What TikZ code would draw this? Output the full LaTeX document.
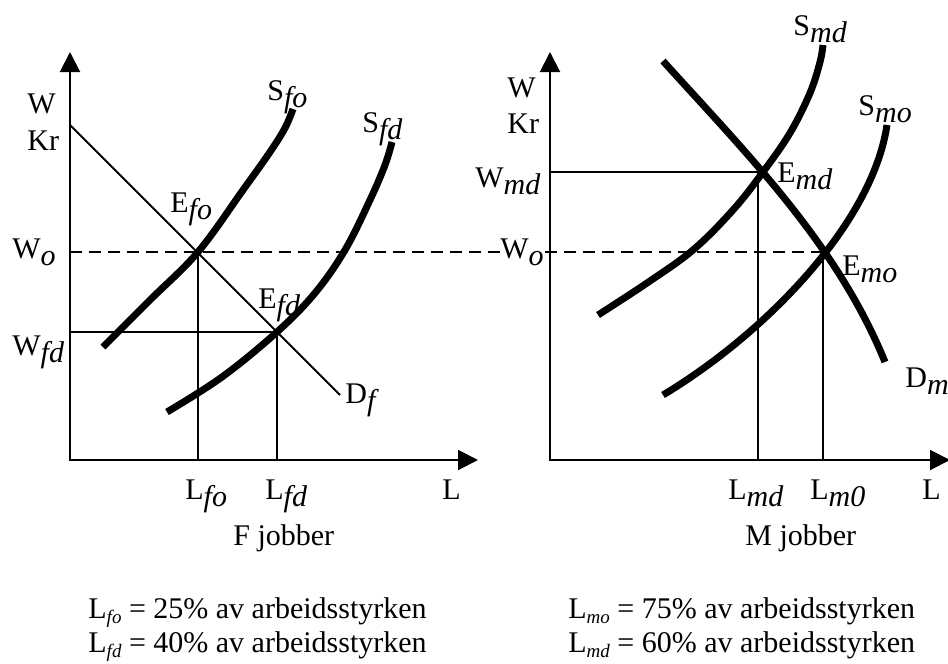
\documentclass[tikz,border=0pt]{standalone}
\usepackage{fontspec}
\setmainfont{Liberation Serif}
\usetikzlibrary{arrows.meta}
\newcommand\lsub[1]{\raisebox{-3.5pt}{\itshape #1}}
\newcommand\ssub[1]{\raisebox{-2.5pt}{\fontsize{9.5}{10}\selectfont\itshape #1}}
\begin{document}
\begin{tikzpicture}[x=0.5pt,y=-0.5pt,font=\fontsize{15}{18}\selectfont,
  lab/.style={anchor=base west,inner sep=0pt},
  axes/.style={line width=1pt,{Triangle[length=10pt,width=10pt]}-{Triangle[length=10pt,width=10pt]}},
  guide/.style={line width=1pt},
  dashline/.style={line width=1pt,dash pattern=on 6pt off 3.5pt},
  heavy/.style={line width=3.5pt}]
\useasboundingbox (0,0) rectangle (948,664);
% ---------- left panel ----------
\coordinate (Y1) at (70,52);
\coordinate (O1) at (70,460);
\coordinate (X1) at (478,460);
\coordinate (Efo) at (198,252);
\coordinate (Efd) at (277,332);
\coordinate (Dft) at (70,125);
\coordinate (Dfb) at (340,395);
\coordinate (Wo1) at (70,252);
\coordinate (Wfd) at (70,332);
\coordinate (Lfo) at (198,460);
\coordinate (Lfd) at (277,460);
% ---------- right panel ----------
\coordinate (Y2) at (550,52);
\coordinate (O2) at (550,460);
\coordinate (X2) at (950,460);
\coordinate (Emd) at (763,172);
\coordinate (Emo) at (825,252);
\coordinate (Wmd) at (550,172);
\coordinate (Emdv) at (758,172);
\coordinate (Lmd) at (758,460);
\coordinate (Emov) at (823,252);
\coordinate (Lmo) at (823,460);

\draw[axes] (Y1) -- (O1) -- (X1);
\draw[axes] (Y2) -- (O2) -- (X2);

\draw[dashline] (Wo1) -- (Emo);
\draw[guide] (Dft) -- (Dfb);
\draw[guide] (Efo) -- (Lfo);
\draw[guide] (Wfd) -- (Efd) -- (Lfd);
\draw[guide] (Wmd) -- (Emdv) -- (Lmd);
\draw[guide] (Emov) -- (Lmo);

% supply / demand curves
\draw[heavy] plot[smooth,tension=0.6] coordinates {(103,347) (150,300) (198,252) (243,190) (270,152) (285,128) (293,109)};
\draw[heavy] plot[smooth,tension=0.6] coordinates {(167,412) (222,377) (277,332) (315,293) (345,250) (370,200) (385,165) (392,142)};
\draw[heavy] plot[smooth,tension=0.6] coordinates {(598,315) (647,283) (693,250) (733,210) (763,172) (790,133) (810,93) (820,62) (823,45)};
\draw[heavy] (663,395) .. controls (763,335) and (872,225) .. (887,125);
\draw[heavy] (663,61) .. controls (747,154) and (837,244) .. (885,362);

% left labels
\node[lab] (lW1) at (27,113) {W};
\node[lab] (lKr1) at (27,150) {Kr};
\node[lab] (lWo1) at (12,258) {W\lsub{o}};
\node[lab] (lWfd) at (12,355) {W\lsub{fd}};
\node[lab] (lSfo) at (267,100) {S\lsub{fo}};
\node[lab] (lSfd) at (362,132) {S\lsub{fd}};
\node[lab] (lEfo) at (170,212) {E\lsub{fo}};
\node[lab] (lEfd) at (258,308) {E\lsub{fd}};
\node[lab] (lDf) at (345,403) {D\lsub{f}};
\node[lab] (lLfo) at (185,499) {L\lsub{fo}};
\node[lab] (lLfd) at (265,499) {L\lsub{fd}};
\node[lab] (lL1) at (442,499) {L};
\node[lab] (lF) at (233,545) {F jobber};
% right labels
\node[lab] (lW2) at (507,97) {W};
\node[lab] (lKr2) at (507,133) {Kr};
\node[lab] (lWmd) at (475,187) {W\lsub{md}};
\node[lab,fill=white] (lWo2) at (500,258) {W\lsub{o}};
\node[lab] (lSmd) at (793,35) {S\lsub{md}};
\node[lab] (lSmo) at (858,115) {S\lsub{mo}};
\node[lab] (lEmd) at (777,182) {E\lsub{md}};
\node[lab] (lEmo) at (842,275) {E\lsub{mo}};
\node[lab] (lDm) at (905,387) {D\lsub{m}};
\node[lab] (lLmd) at (728,499) {L\lsub{md}};
\node[lab] (lLm0) at (810,499) {L\lsub{m0}};
\node[lab] (lL2) at (922,499) {L};
\node[lab] (lM) at (745,545) {M jobber};
% bottom text
\node[lab] (t1) at (88,618) {L\ssub{fo} = 25\% av arbeidsstyrken};
\node[lab] (t2) at (88,652) {L\ssub{fd} = 40\% av arbeidsstyrken};
\node[lab] (t3) at (568,618) {L\ssub{mo} = 75\% av arbeidsstyrken};
\node[lab] (t4) at (568,652) {L\ssub{md} = 60\% av arbeidsstyrken};
\end{tikzpicture}
\end{document}
